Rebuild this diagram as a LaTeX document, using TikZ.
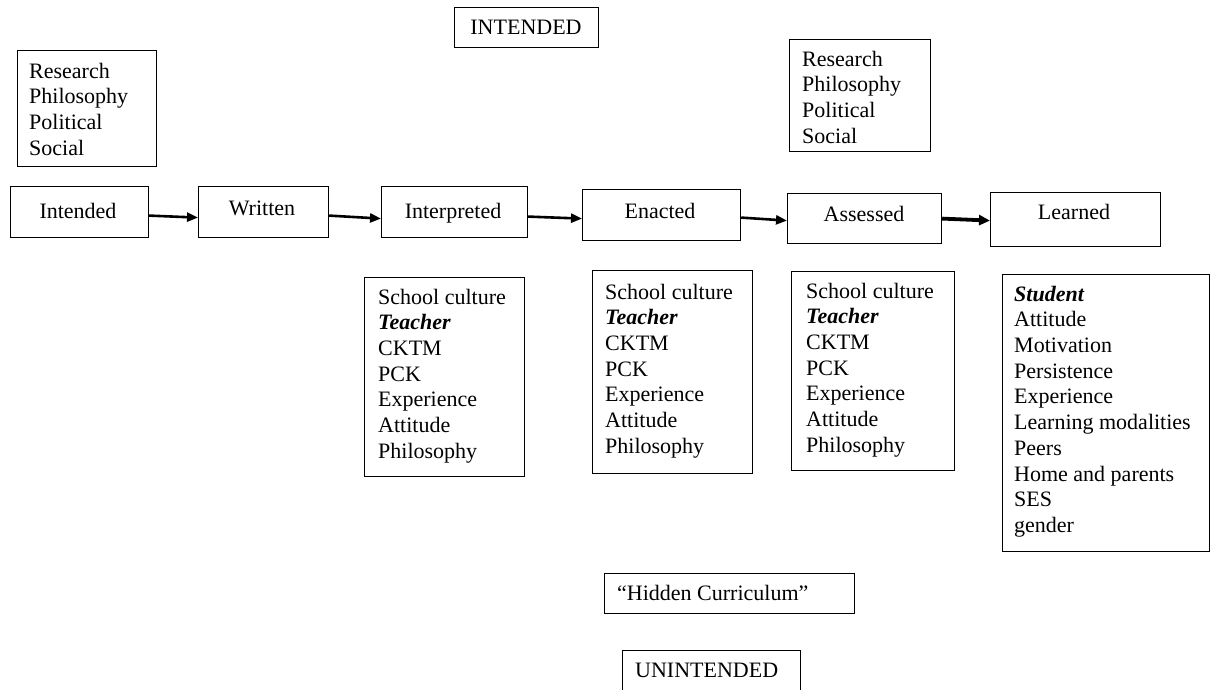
\documentclass[tikz,border=0pt]{standalone}
\usepackage{fontspec}
\setmainfont{Liberation Serif}
\usetikzlibrary{arrows.meta}
\begin{document}
\begin{tikzpicture}[x=1pt,y=-1pt,
  box/.style={draw, line width=1.2pt, inner sep=0pt, anchor=north west},
  txt/.style={font=\fontsize{22}{25.7}\selectfont, inner sep=0pt, align=left},
  lst/.style={txt, anchor=north west},
  arr/.style={line width=2.6pt, -{Triangle[length=11pt,width=9pt]}},
  arrb/.style={line width=3.8pt, -{Triangle[length=11pt,width=10pt]}}]
\useasboundingbox (0,0) rectangle (1210,690);
\clip (0,0) rectangle (1210,690);
% boxes
\node[box, minimum width=144pt, minimum height=40pt] (top) at (454,7) {};
\node[box, minimum width=139pt, minimum height=116pt] (resL) at (17,50) {};
\node[box, minimum width=141pt, minimum height=112pt] (resR) at (789,39) {};
\node[box, minimum width=138pt, minimum height=51pt] (b1) at (10,186) {};
\node[box, minimum width=130pt, minimum height=51pt] (b2) at (198,186) {};
\node[box, minimum width=146pt, minimum height=51pt] (b3) at (381,186) {};
\node[box, minimum width=158pt, minimum height=51pt] (b4) at (582,189) {};
\node[box, minimum width=154pt, minimum height=50pt] (b5) at (787,193) {};
\node[box, minimum width=170pt, minimum height=54pt] (b6) at (990,192) {};
\node[box, minimum width=160pt, minimum height=199pt] (l3) at (364,277) {};
\node[box, minimum width=160pt, minimum height=203pt] (l4) at (592,270) {};
\node[box, minimum width=163pt, minimum height=199pt] (l5) at (791,271) {};
\node[box, minimum width=207pt, minimum height=277pt] (l6) at (1002,274) {};
\node[box, minimum width=250pt, minimum height=40pt] (hid) at (604,573) {};
\node[box, minimum width=178pt, minimum height=50pt] (unint) at (622,650) {};
% texts (first-line baseline = given y + 18)
\node[txt, anchor=base] (ttop) at (526,35) {INTENDED};
\node[lst] (tresL) at (29,60) {\strut Research\\Philosophy\\Political\\Social};
\node[lst] (tresR) at (802,48) {\strut Research\\Philosophy\\Political\\Social};
\node[txt, anchor=base] (t1) at (78,218) {Intended};
\node[txt, anchor=base] (t2) at (262,215) {Written};
\node[txt, anchor=base] (t3) at (453,218) {Interpreted};
\node[txt, anchor=base] (t4) at (660,218) {Enacted};
\node[txt, anchor=base] (t5) at (864,221) {Assessed};
\node[txt, anchor=base] (t6) at (1074,219) {Learned};
\node[lst] (tl3) at (378,286) {\strut School culture\\\textbf{\textit{Teacher}}\\CKTM\\PCK\\Experience\\Attitude\\Philosophy};
\node[lst] (tl4) at (605,281) {\strut School culture\\\textbf{\textit{Teacher}}\\CKTM\\PCK\\Experience\\Attitude\\Philosophy};
\node[lst] (tl5) at (806,280) {\strut School culture\\\textbf{\textit{Teacher}}\\CKTM\\PCK\\Experience\\Attitude\\Philosophy};
\node[lst] (tl6) at (1014,283) {\strut\textbf{\textit{Student}}\\Attitude\\Motivation\\Persistence\\Experience\\Learning modalities\\Peers\\Home and parents\\SES\\gender};
\node[txt, anchor=base west] (thid) at (617,600) {``Hidden Curriculum''};
\node[txt, anchor=base west] (tun) at (635,677) {UNINTENDED};
% arrows
\draw[arr] ([yshift=-3.5pt]b1.east) -- ([yshift=-5.5pt]b2.west);
\draw[arr] ([yshift=-3.5pt]b2.east) -- ([yshift=-6.5pt]b3.west);
\draw[arr] ([yshift=-4.5pt]b3.east) -- ([yshift=-3.5pt]b4.west);
\draw[arr] ([yshift=-2.5pt]b4.east) -- ([yshift=-2pt]b5.west);
\draw[arrb] (b5.east) -- ([yshift=-1pt]b6.west);
\end{tikzpicture}
\end{document}
